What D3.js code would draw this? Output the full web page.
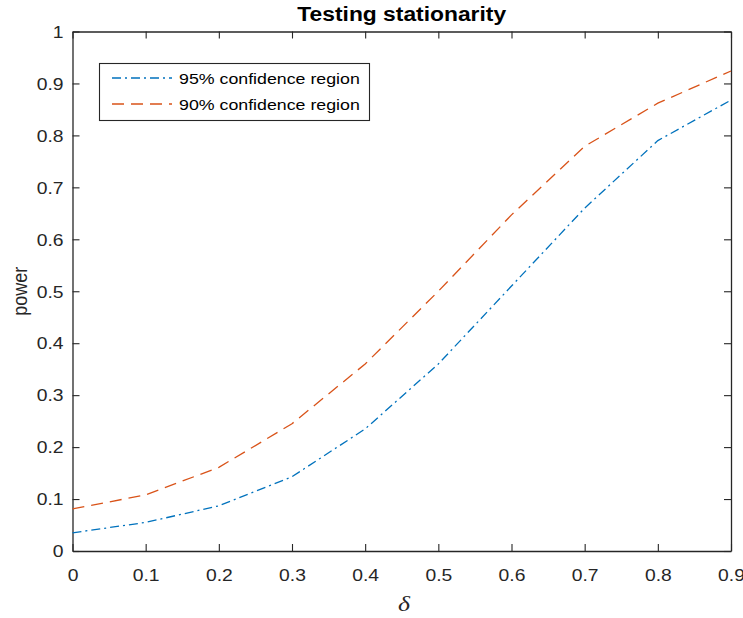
<!DOCTYPE html>
<html><head><meta charset="utf-8">
<script src="https://cdn.jsdelivr.net/npm/d3@7"></script>
<style>body{margin:0;background:#fff}svg{display:block}</style>
</head><body>
<script>
const delta = [0,0.1,0.2,0.3,0.4,0.5,0.6,0.7,0.8,0.9];
const power95 = [0.035,0.055,0.087,0.143,0.235,0.36,0.51,0.66,0.79,0.868];
const power90 = [0.081,0.108,0.161,0.245,0.36,0.50,0.647,0.779,0.862,0.924];
const xTicks = [0,0.1,0.2,0.3,0.4,0.5,0.6,0.7,0.8,0.9];
const yTicks = [0,0.1,0.2,0.3,0.4,0.5,0.6,0.7,0.8,0.9,1];
const seriesNames = ["95% confidence region","90% confidence region"];

const W=743,H=618;
const m={l:72.5,r:731,t:31.5,b:551};
const SX=1.17;
const svg=d3.select("body").append("svg").attr("width",W).attr("height",H);
const x=d3.scaleLinear().domain([0,0.9]).range([m.l,m.r]);
const y=d3.scaleLinear().domain([0,1]).range([m.b,m.t]);
const font="Liberation Sans, Arial, sans-serif";
function stretch(sel){
  sel.each(function(){
    const L=this.getComputedTextLength();
    if(L>0) d3.select(this).attr("textLength",L*SX).attr("lengthAdjust","spacingAndGlyphs");
  });
}

const fmt=d=>d===0?"0":d===1?"1":String(d);
const gx=svg.append("g").attr("transform",`translate(0,${m.b})`)
 .call(d3.axisBottom(x).tickValues(xTicks).tickFormat(fmt).tickSizeInner(-7).tickSizeOuter(0).tickPadding(18));
const gy=svg.append("g").attr("transform",`translate(${m.l},0)`)
 .call(d3.axisLeft(y).tickValues(yTicks).tickFormat(fmt).tickSizeInner(-7).tickSizeOuter(0).tickPadding(9));
const gt=svg.append("g").attr("transform",`translate(0,${m.t})`)
 .call(d3.axisTop(x).tickValues(xTicks).tickFormat("").tickSizeInner(-7).tickSizeOuter(0));
const gr=svg.append("g").attr("transform",`translate(${m.r},0)`)
 .call(d3.axisRight(y).tickValues(yTicks).tickFormat("").tickSizeInner(-7).tickSizeOuter(0));
[gx,gy,gt,gr].forEach(g=>{
 g.selectAll("path").attr("stroke","#262626").attr("stroke-width",1.3);
 g.selectAll("line").attr("stroke","#262626").attr("stroke-width",1.1);
 g.selectAll("text").attr("font-family",font).attr("font-size",16.5).attr("fill","#262626");
});
gy.selectAll("text").attr("dy","0.35em");
stretch(gx.selectAll("text")); stretch(gy.selectAll("text"));

const line=d3.line().x((d,i)=>x(delta[i])).y(d=>y(d));
const cols=["#0072BD","#D95319"],dash=["9,4,2,4","12,7"];
[power95,power90].forEach((s,i)=>{
 svg.append("path").datum(s).attr("d",line).attr("fill","none")
  .attr("stroke",cols[i]).attr("stroke-width",1.3).attr("stroke-dasharray",dash[i]);
});

const title=svg.append("text").attr("x",(m.l+m.r)/2).attr("y",21).attr("text-anchor","middle")
 .attr("font-family",font).attr("font-weight","bold").attr("font-size",19.5).attr("fill","#000").text("Testing stationarity");
stretch(title);
svg.append("text").attr("transform",`translate(27,${(m.t+m.b)/2}) scale(${SX},1) rotate(-90)`).attr("text-anchor","middle")
 .attr("font-family",font).attr("font-size",18).attr("fill","#262626").text("power");
svg.append("text").attr("transform",`translate(404,611) scale(${SX},1)`).attr("text-anchor","middle")
 .attr("font-family","Liberation Serif, Times New Roman, serif").attr("font-style","italic").attr("font-size",22).attr("fill","#262626").text("δ");

const lg=svg.append("g");
lg.append("rect").attr("x",99.5).attr("y",63.5).attr("width",270).attr("height",57)
 .attr("fill","#fff").attr("stroke","#262626").attr("stroke-width",1.1);
seriesNames.forEach((n,i)=>{
 const yy=78+i*26;
 lg.append("line").attr("x1",112).attr("x2",172).attr("y1",yy).attr("y2",yy)
  .attr("stroke",cols[i]).attr("stroke-width",1.3).attr("stroke-dasharray",dash[i]);
 const t=lg.append("text").attr("x",179).attr("y",yy+5.5).attr("font-family",font).attr("font-size",15.2).attr("fill","#000").text(n);
 stretch(t);
});
</script>
</body></html>
